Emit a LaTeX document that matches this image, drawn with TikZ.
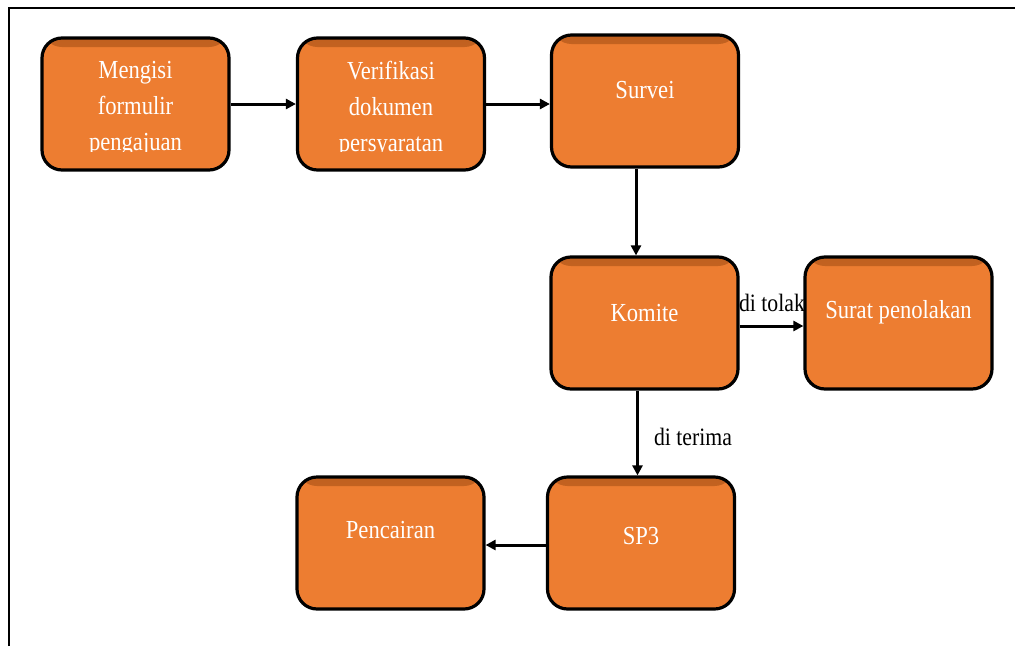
\documentclass[tikz,border=0pt]{standalone}
\usepackage{fontspec}
\setmainfont{Liberation Serif}[FakeStretch=0.87]
\usetikzlibrary{arrows.meta}
\definecolor{boxorange}{HTML}{ED7D31}
\definecolor{boxdark}{HTML}{C0601F}
\begin{document}
\begin{tikzpicture}[x=1pt,y=-1pt,
  box/.style={draw=black, line width=3.2pt, fill=boxorange, rounded corners=20pt,
    minimum width=187pt, minimum height=132pt, inner sep=0pt,
    path picture={\fill[top color=boxdark, bottom color=boxorange]
      (path picture bounding box.north west) rectangle
      ([yshift=-9pt]path picture bounding box.north east);}},
  txt/.style={text=white, font=\fontsize{26}{36}\selectfont, align=center, inner sep=0pt},
  lbl/.style={text=black, font=\fontsize{25}{30}\selectfont, inner sep=0pt},
  arr/.style={line width=3pt, -{Triangle[length=10pt,width=10pt]}}]
\useasboundingbox (0,0) rectangle (1015,646);
\fill[white] (0,0) rectangle (1015,646);
\draw[line width=1.5pt] (9,646) -- (9,8) -- (1015,8);

% boxes
\node[box] (b1) at (135.5,104) {};
\node[box] (b2) at (391,104) {};
\node[box] (survei) at (645,101) {};
\node[box] (komite) at (644.5,323) {};
\node[box] (surat) at (898.5,323) {};
\node[box] (pencairan) at (390.5,543) {};
\node[box] (sp3) at (641,543) {};

% box texts
\begin{scope}
  \clip (40,36) rectangle (490,151);
  \node[txt] (t1) at (135.5,109) {Mengisi\\formulir\\pengajuan};
  \node[txt] (t2) at (391,109) {Verifikasi\\dokumen\\persyaratan};
\end{scope}
\node[txt] (t3) at (645,90) {Survei};
\node[txt] (t4) at (644.5,313) {Komite};
\node[txt] (t5) at (898.5,312) {Surat penolakan};
\node[txt] (t6) at (390.5,530) {Pencairan};
\node[txt] (t7) at (641,536) {SP3};

% connectors
\draw[arr] (b1) -- (b2);
\draw[arr] (b2.east) -- (b2.east -| survei.west);
\draw[arr] ([xshift=-9pt]survei.south) -- ([xshift=-9pt]survei.south |- komite.north);
\draw[arr] ([yshift=-3pt]komite.east) -- ([yshift=-3pt]surat.west);
\draw[arr] ([xshift=-7pt]komite.south) -- ([xshift=-7pt]komite.south |- sp3.north);
\draw[arr] ([yshift=-2pt]sp3.west) -- ([yshift=-2pt]pencairan.east);

% labels
\node[lbl] (l1) at (772,303) {di tolak};
\node[lbl] (l2) at (693,437) {di terima};
\end{tikzpicture}
\end{document}
